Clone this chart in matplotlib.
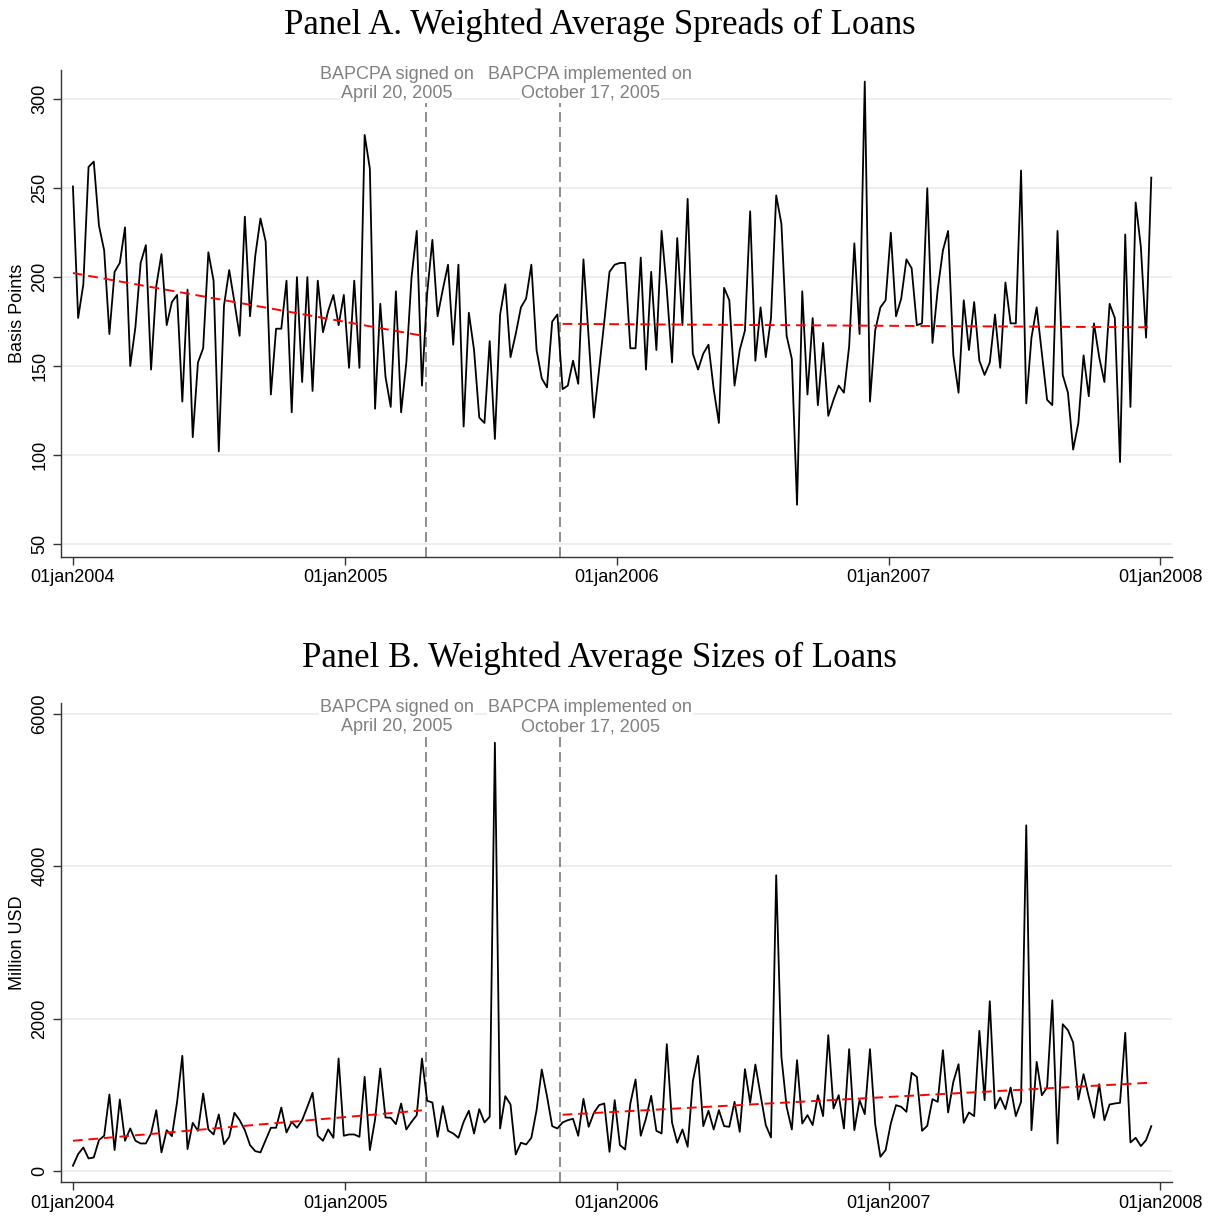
import numpy as np
import pandas as pd
import matplotlib
matplotlib.use("Agg")
import matplotlib.pyplot as plt
import matplotlib.dates as mdates

plt.rcParams['font.family'] = ['Liberation Sans', 'DejaVu Sans']

# weekly observations, Jan 2004 - Dec 2007
weeks = pd.date_range("2004-01-01", periods=208, freq="7D")

# Panel A: weighted average spreads (basis points)
spreads = [
    251, 177, 196, 262, 265, 229, 215, 168, 203, 208,
    228, 150, 172, 208, 218, 148, 195, 213, 173, 186,
    190, 130, 193, 110, 152, 160, 214, 198, 102, 184,
    204, 186, 167, 234, 178, 212, 233, 220, 134, 171,
    171, 198, 124, 200, 141, 200, 136, 198, 169, 181,
    190, 173, 190, 149, 198, 149, 280, 261, 126, 185,
    144, 127, 192, 124, 152, 200, 226, 139, 191, 221,
    178, 193, 207, 162, 207, 116, 180, 159, 121, 118,
    164, 109, 179, 196, 155, 168, 183, 188, 207, 159,
    143, 138, 175, 179, 137, 139, 153, 140, 210, 166,
    121, 148, 175, 203, 207, 208, 208, 160, 160, 211,
    148, 203, 159, 226, 193, 152, 222, 173, 244, 157,
    148, 157, 162, 137, 118, 194, 187, 139, 159, 170,
    237, 153, 183, 155, 177, 246, 230, 167, 154, 72,
    192, 134, 177, 128, 163, 122, 131, 139, 135, 161,
    219, 168, 310, 130, 170, 183, 187, 225, 178, 188,
    210, 205, 173, 174, 250, 163, 193, 215, 226, 156,
    135, 187, 159, 186, 153, 145, 152, 179, 149, 197,
    174, 174, 260, 129, 166, 183, 157, 131, 128, 226,
    145, 135, 103, 118, 156, 133, 174, 155, 141, 185,
    177, 96, 224, 127, 242, 217, 166, 256,
]

# Panel B: weighted average sizes (million USD)
sizes = [
    66, 219, 306, 162, 175, 403, 460, 1002, 271, 936,
    394, 556, 394, 359, 359, 490, 796, 241, 534, 455,
    906, 1510, 284, 630, 525, 1015, 543, 477, 740, 350,
    446, 761, 665, 534, 337, 258, 241, 403, 565, 565,
    831, 503, 643, 565, 665, 840, 1024, 460, 394, 543,
    433, 1475, 460, 477, 477, 446, 1234, 271, 674, 1343,
    700, 696, 613, 884, 543, 643, 731, 1475, 919, 897,
    446, 849, 525, 490, 433, 643, 788, 490, 810, 635,
    709, 5623, 556, 980, 871, 214, 368, 346, 433, 796,
    1330, 980, 586, 556, 635, 665, 683, 460, 945, 578,
    761, 862, 884, 249, 928, 337, 280, 884, 1199, 460,
    687, 985, 525, 490, 1663, 635, 368, 543, 315, 1177,
    1510, 586, 788, 543, 796, 586, 578, 906, 512, 1335,
    893, 1396, 993, 600, 438, 3882, 1497, 840, 543, 1453,
    621, 731, 600, 993, 718, 1781, 818, 993, 556, 1597,
    534, 928, 744, 1597, 613, 184, 271, 621, 862, 840,
    775, 1287, 1234, 525, 591, 941, 906, 1584, 766, 1168,
    1400, 630, 766, 718, 1838, 928, 2227, 818, 963, 810,
    1094, 718, 906, 4538, 534, 1431, 993, 1094, 2240, 359,
    1925, 1847, 1685, 936, 1269, 971, 696, 1138, 665, 871,
    884, 893, 1812, 372, 433, 324, 403, 586,
]

signed = pd.Timestamp("2005-04-20")
implemented = pd.Timestamp("2005-10-17")
signed_text = ["BAPCPA signed on", "April 20, 2005"]
implemented_text = ["BAPCPA implemented on", "October 17, 2005"]
year_ticks = pd.to_datetime(["2004-01-01", "2005-01-01", "2006-01-01", "2007-01-01", "2008-01-01"])
year_labels = ["01jan2004", "01jan2005", "01jan2006", "01jan2007", "01jan2008"]


def fit_segment(ax, dates, vals, mask):
    d = mdates.date2num(dates[mask])
    v = np.asarray(vals)[mask]
    k, b = np.polyfit(d, v, 1)
    ax.plot(dates[mask], k * d + b, color="red", lw=1.4, dashes=(5, 3), zorder=4)


def label_lines(ax, x, lines, ys):
    for txt, y in zip(lines, ys):
        ax.text(x, y, txt, ha="center", va="center", color="#808080", fontsize=13, zorder=6,
                bbox=dict(facecolor="white", edgecolor="none", pad=0.6))


def panel(rect, vals, title, ylabel, yticks, ylim, text_ys):
    ax = fig.add_axes(rect)
    ax.plot(weeks, vals, color="black", lw=1.3, zorder=3)
    fit_segment(ax, weeks, vals, weeks < signed)
    fit_segment(ax, weeks, vals, weeks >= implemented)

    for d in (signed, implemented):
        ax.axvline(d, color="#7a7a7a", lw=1.2, dashes=(6, 3), zorder=2)
    label_lines(ax, signed - pd.Timedelta(days=40), signed_text, text_ys)
    label_lines(ax, implemented + pd.Timedelta(days=40), implemented_text, text_ys)

    ax.set_xlim(pd.Timestamp("2004-01-01") - pd.Timedelta(days=16),
                pd.Timestamp("2004-01-01") + pd.Timedelta(days=1477))
    ax.set_ylim(*ylim)
    ax.set_xticks(year_ticks)
    ax.set_xticklabels(year_labels, fontsize=13)
    ax.set_yticks(yticks)
    ax.set_yticklabels([str(t) for t in yticks], fontsize=13, rotation=90, va="center")
    ax.grid(axis="y", color="#e6eef0", lw=1.2, zorder=0)
    ax.set_axisbelow(True)
    for s in ("top", "right"):
        ax.spines[s].set_visible(False)
    for s in ("left", "bottom"):
        ax.spines[s].set_color("#333333")
        ax.spines[s].set_linewidth(1.0)
    ax.tick_params(length=6, width=1.0, color="#333333", pad=3)
    ax.set_ylabel(ylabel, fontsize=13, labelpad=4)
    fig.text(0.4945, rect[1] + rect[3] + 0.037, title, ha="center", va="center",
             fontsize=25, family="Liberation Serif")
    return ax


fig = plt.figure(figsize=(12.13, 12.22), dpi=100)

panel([0.0503, 0.5442, 0.916, 0.3985], spreads,
      "Panel A. Weighted Average Spreads of Loans", "Basis Points",
      [50, 100, 150, 200, 250, 300], (42.6, 316.5), (313.7, 303.3))
panel([0.0503, 0.0327, 0.916, 0.392], sizes,
      "Panel B. Weighted Average Sizes of Loans", "Million USD",
      [0, 2000, 4000, 6000], (-148, 6145), (6085, 5835))

fig.savefig("out.png", dpi=100)
